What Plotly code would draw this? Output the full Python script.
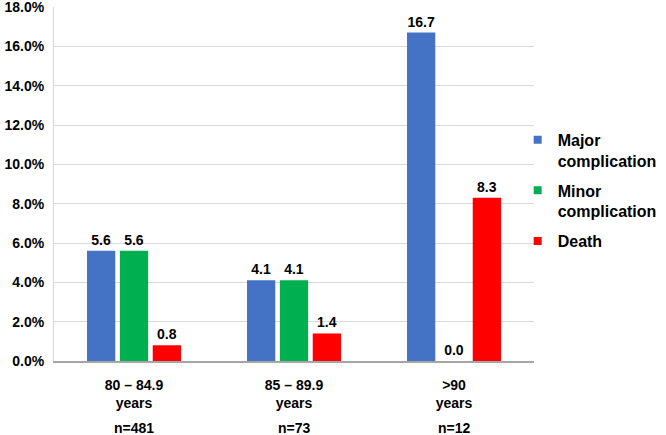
import plotly.graph_objects as go

categories = ["80 – 84.9<br>years", "85 – 89.9<br>years", ">90<br>years"]
n_labels = ["n=481", "n=73", "n=12"]
series_names = ["Major<br>complication", "Minor<br>complication", "Death"]
major = [5.6, 4.1, 16.7]
minor = [5.6, 4.1, 0.0]
death = [0.8, 1.4, 8.3]
colors = ["#4472C4", "#00B050", "#FF0000"]
y_ticks = [0, 2, 4, 6, 8, 10, 12, 14, 16, 18]

FONT = "Arial, Liberation Sans, sans-serif"

fig = go.Figure()
for name, vals, col in zip(series_names, [major, minor, death], colors):
    fig.add_trace(go.Bar(
        x=categories, y=vals, name=name, showlegend=False,
        marker=dict(color=col, line=dict(width=0)),
        texttemplate="%{y:.1f}", textposition="outside",
        textfont=dict(family=FONT, size=14, color="#000000", weight="bold"),
        cliponaxis=False,
    ))
# legend entries (square swatches)
for name, col in zip(series_names, colors):
    fig.add_trace(go.Scatter(
        x=[None], y=[None], mode="markers", name=name, legendgroup=name,
        marker=dict(symbol="square", size=8, color=col),
    ))

for cat, nl in zip(categories, n_labels):
    fig.add_annotation(x=cat, xref="x", y=-0.19, yref="paper", text=nl,
                       showarrow=False, yanchor="middle",
                       font=dict(family=FONT, size=14, color="#000000", weight="bold"))

fig.update_layout(
    width=666, height=435,
    margin=dict(l=54, r=132, t=7, b=74, autoexpand=False),
    plot_bgcolor="#ffffff", paper_bgcolor="#ffffff",
    barmode="group", bargap=0.384, bargroupgap=0.14,
    font=dict(family=FONT, size=14, color="#000000", weight="bold"),
    showlegend=True,
    legend=dict(x=0.966, xanchor="left", y=0.482, yanchor="middle",
                valign="top", tracegroupgap=6, itemwidth=30,
                font=dict(family=FONT, size=16, color="#000000", weight="bold"),
                bgcolor="rgba(0,0,0,0)"),
)
fig.update_yaxes(range=[0, 18], tickvals=y_ticks,
                 ticktext=[f"{v:.1f}%" for v in y_ticks],
                 showgrid=True, gridcolor="#d9d9d9", gridwidth=1,
                 zeroline=False, showline=True, linecolor="#d9d9d9", linewidth=1,
                 ticks="", ticklabelstandoff=6, ticklabeloverflow="allow",
                 tickfont=dict(family=FONT, size=14, color="#000000", weight="bold"))
fig.update_xaxes(showline=True, linecolor="#a6a6a6", linewidth=2,
                 ticks="", ticklabelstandoff=10,
                 tickfont=dict(family=FONT, size=14, color="#000000", weight="bold"))

fig.write_html("out.html")
